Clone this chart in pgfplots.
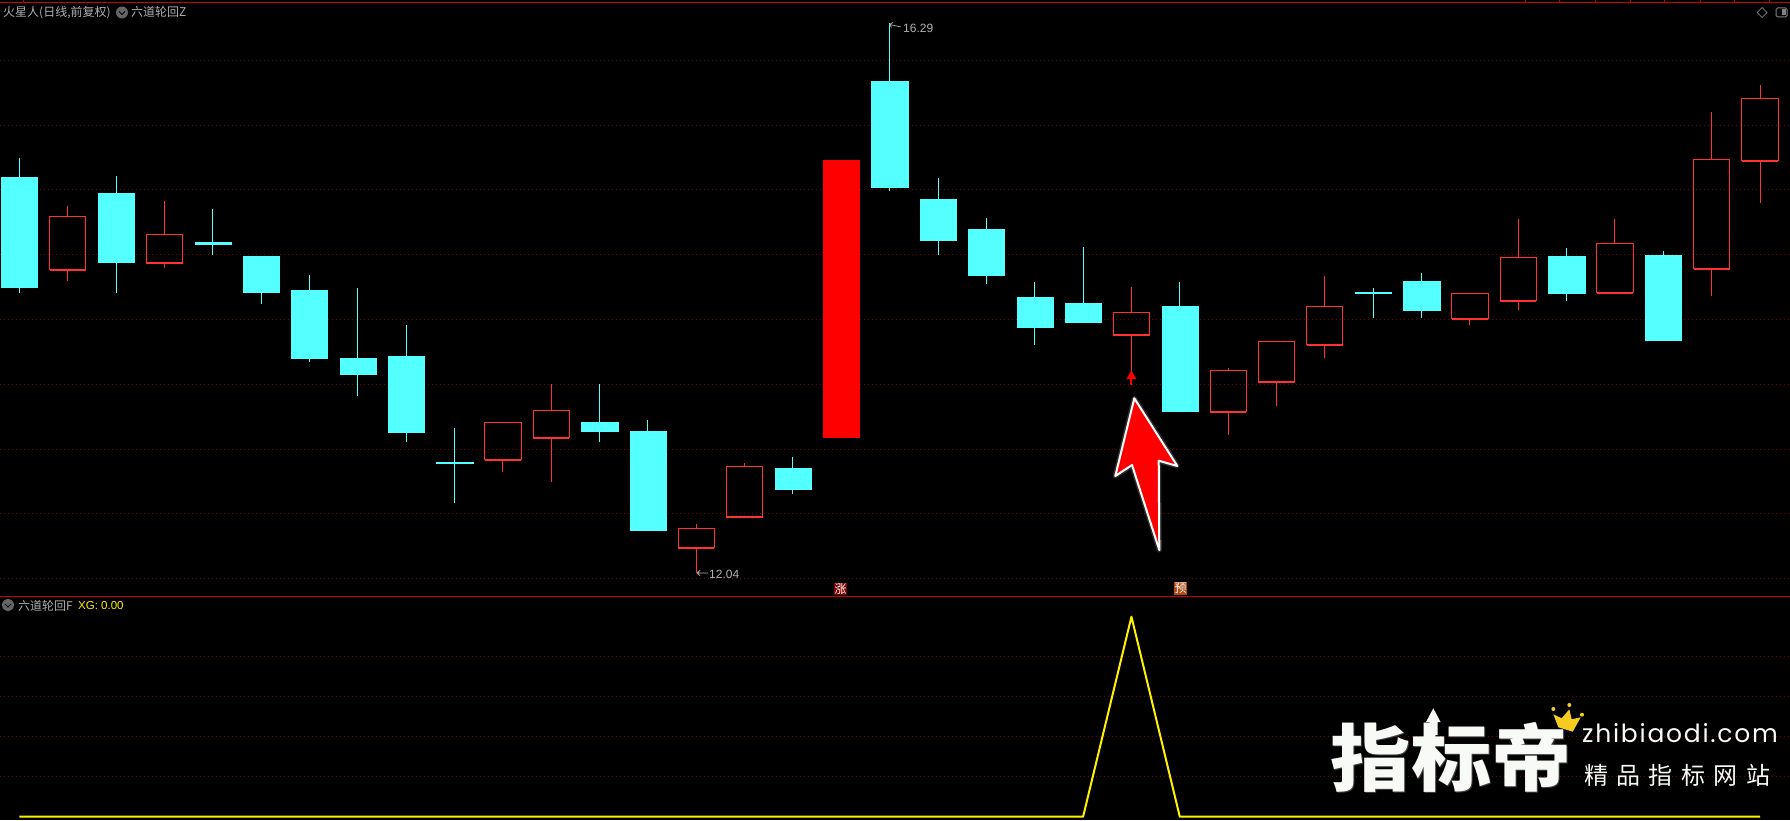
\documentclass[border=0pt]{standalone}
\usepackage{fontspec}
\usepackage{pgfplots}
\pgfplotsset{compat=1.18}
\usepgfplotslibrary{statistics}
\setmainfont{Liberation Sans}
\newfontfamily\cjk{Noto Sans CJK SC}
\newfontfamily\logo[LetterSpace=7]{Poppins}
\definecolor{kcyan}{RGB}{84,255,255}
\definecolor{kred}{RGB}{255,50,50}
\definecolor{kgrid}{RGB}{120,0,0}
\definecolor{kline}{RGB}{200,0,0}
\definecolor{ktext}{RGB}{176,176,176}
\definecolor{kwm}{RGB}{248,250,246}
\definecolor{kgold}{RGB}{245,203,31}
\definecolor{kbadge}{RGB}{176,72,16}
\pgfplotsset{
  paneaxis/.style={
    scale only axis, width=1790pt, anchor=south west,
    xmin=-0.40, xmax=36.62, xtick=\empty,
    yticklabels={}, axis line style={draw=none},
    major tick style={draw=none}, ymajorgrids,
    grid style={kgrid, line width=0.8pt, dash pattern=on 1pt off 3pt},
  },
  % day, high, top of body, bottom of body, low
  k/.style n args={5}{
    boxplot prepared={draw direction=y, draw position=#1, box extend=0.75, whisker extend=0,
      lower whisker=#5, lower quartile=#4, median=#4, upper quartile=#3, upper whisker=#2,
      every whisker/.style={line width=1pt},
      every median/.style={line width=0.2pt}},
  },
  down/.style={draw=kcyan, fill=kcyan, boxplot/every box/.style={line width=0.2pt}},
  up/.style={draw=kred, fill=none, boxplot/every box/.style={line width=1pt}},
  limit/.style={draw=red, fill=red, boxplot/every box/.style={line width=0.2pt}},
}
\begin{document}
\begin{tikzpicture}[x=1pt,y=1pt]
\useasboundingbox (0,0) rectangle (1790,820);
\fill[black] (0,0) rectangle (1790,820);
% upper pane: price
\begin{axis}[paneaxis, at={(0pt,224pt)}, height=594pt,
  ymin=11.8647, ymax=16.4498, ytick={12,12.5,...,16}]
\addplot[down, k={0}{15.246}{15.099}{14.250}{14.204}] coordinates {};
\addplot[up, k={1}{14.875}{14.796}{14.383}{14.296}] coordinates {};
\addplot[down, k={2}{15.107}{14.975}{14.443}{14.204}] coordinates {};
\addplot[up, k={3}{14.914}{14.657}{14.437}{14.397}] coordinates {};
\addplot[down, k={4}{14.852}{14.597}{14.582}{14.497}] coordinates {};
\addplot[down, k={5}{14.489}{14.489}{14.211}{14.119}] coordinates {};
\addplot[down, k={6}{14.342}{14.227}{13.702}{13.671}] coordinates {};
\addplot[down, k={7}{14.242}{13.702}{13.578}{13.408}] coordinates {};
\addplot[down, k={8}{13.957}{13.717}{13.131}{13.053}] coordinates {};
\addplot[down, k={9}{13.162}{12.899}{12.891}{12.583}] coordinates {};
\addplot[up, k={10}{13.205}{13.205}{12.917}{12.822}] coordinates {};
\addplot[up, k={11}{13.501}{13.298}{13.087}{12.745}] coordinates {};
\addplot[down, k={12}{13.501}{13.208}{13.138}{13.053}] coordinates {};
\addplot[down, k={13}{13.223}{13.138}{12.374}{12.374}] coordinates {};
\addplot[up, k={14}{12.420}{12.387}{12.238}{12.040}] coordinates {};
\addplot[up, k={15}{12.891}{12.866}{12.477}{12.477}] coordinates {};
\addplot[down, k={16}{12.938}{12.853}{12.691}{12.652}] coordinates {};
\addplot[limit, k={17}{15.230}{15.230}{13.092}{13.092}] coordinates {};
\addplot[down, k={18}{16.290}{15.840}{15.022}{14.991}] coordinates {};
\addplot[down, k={19}{15.091}{14.929}{14.613}{14.497}] coordinates {};
\addplot[down, k={20}{14.783}{14.698}{14.342}{14.273}] coordinates {};
\addplot[down, k={21}{14.288}{14.173}{13.941}{13.802}] coordinates {};
\addplot[down, k={22}{14.559}{14.126}{13.980}{13.972}] coordinates {};
\addplot[up, k={23}{14.250}{14.055}{13.882}{13.601}] coordinates {};
\addplot[down, k={24}{14.288}{14.103}{13.293}{13.293}] coordinates {};
\addplot[up, k={25}{13.625}{13.607}{13.287}{13.107}] coordinates {};
\addplot[up, k={26}{13.831}{13.831}{13.519}{13.334}] coordinates {};
\addplot[up, k={27}{14.335}{14.101}{13.804}{13.702}] coordinates {};
\addplot[down, k={28}{14.242}{14.211}{14.204}{14.011}] coordinates {};
\addplot[down, k={29}{14.358}{14.296}{14.072}{14.011}] coordinates {};
\addplot[up, k={30}{14.201}{14.201}{14.005}{13.957}] coordinates {};
\addplot[up, k={31}{14.775}{14.479}{14.144}{14.072}] coordinates {};
\addplot[down, k={32}{14.551}{14.489}{14.204}{14.142}] coordinates {};
\addplot[up, k={33}{14.775}{14.587}{14.206}{14.206}] coordinates {};
\addplot[down, k={34}{14.528}{14.497}{13.841}{13.841}] coordinates {};
\addplot[up, k={35}{15.601}{15.236}{14.391}{14.180}] coordinates {};
\addplot[up, k={36}{15.809}{15.706}{15.225}{14.898}] coordinates {};
% signal arrow under the candle of the XG day
\addplot[red, line width=2pt] coordinates {(23,13.56) (23,13.494)};
\addplot[red, only marks, mark=triangle*, mark size=5.3pt] coordinates {(23,13.56)};
\end{axis}
% lower pane: XG
\begin{axis}[paneaxis, at={(0pt,0pt)}, height=224pt,
  ymin=-0.0165, ymax=1.1035, ytick={0.2,0.4,0.6,0.8}]
\addplot[yellow, line width=2pt, line join=round] coordinates {
 (0,0)(1,0)(2,0)(3,0)(4,0)(5,0)(6,0)(7,0)(8,0)(9,0)(10,0)(11,0)
 (12,0)(13,0)(14,0)(15,0)(16,0)(17,0)(18,0)(19,0)(20,0)(21,0)(22,0)
 (23,1)(24,0)(25,0)(26,0)(27,0)(28,0)(29,0)(30,0)(31,0)(32,0)(33,0)(34,0)(35,0)(36,0)};
\end{axis}
% chrome and annotations, in pixel positions measured from the top left
\begin{scope}[shift={(0,820)}, y=-1pt, x=1pt]
\draw[kline, line width=1pt] (0,2.5)--(1790,2.5);
\draw[kline, line width=1pt] (0,596.5)--(1790,596.5);
\foreach \tx in {23,1525,1559,1595,1630,1664,1700,1734,1769}
  \draw[kline, line width=0.8pt] (\tx,0)--(\tx,2.5);
% header
\node[anchor=base west, inner sep=0, text=ktext, font=\fontsize{12}{12}\selectfont\cjk] at (3,17) {火星人(日线,前复权)};
\fill[black!60!white] (122,12.5) circle (6);
\draw[black, line width=0.9pt] (119,11.5)--(122,14.5)--(125,11.5);
\node[anchor=base west, inner sep=0, text=ktext, font=\fontsize{12}{12}\selectfont\cjk] at (131,17) {六道轮回Z};
% right icons
\draw[gray, line width=0.7pt] (1762,7.5)--(1767,12.5)--(1762,17.5)--(1757,12.5)--cycle;
\draw[gray, line width=1pt, rounded corners=1.5pt] (1776,8)rectangle(1787,17);
\fill[gray] (1782,9.5) rectangle (1785.5,15.5);
% lower header
\fill[black!60!white] (8,605) circle (6);
\draw[black, line width=0.9pt] (5,604)--(8,607)--(11,604);
\node[anchor=base west, inner sep=0, text=ktext, font=\fontsize{12}{12}\selectfont\cjk] at (18,610) {六道轮回F};
\node[anchor=base west, inner sep=0, text=yellow, font=\fontsize{11.5}{12}\selectfont] at (78,609.5) {XG: 0.00};
% high and low
\draw[ktext, line width=0.7pt] (889.5,24.5)--(901,27) (889.5,24.5)--(893,22.5) (889.5,24.5)--(891.5,27.5);
\node[anchor=base west, inner sep=0, text=ktext, font=\fontsize{12}{12}\selectfont] at (903,32.5) {16.29};
\draw[ktext, line width=0.8pt] (697,573)--(708,573) (697,573)--(700,570.5) (697,573)--(700,575.5);
\node[anchor=base west, inner sep=0, text=ktext, font=\fontsize{12}{12}\selectfont] at (709,578) {12.04};
% badges
\fill[red!50!black] (834,582.7) rectangle (847,595);
\node[text=white, inner sep=0, font=\fontsize{12}{12}\selectfont\cjk] at (840.5,589) {涨};
\fill[kbadge] (1174,582) rectangle (1187,595);
\node[text=white, inner sep=0, font=\fontsize{12}{12}\selectfont\cjk] at (1180.5,588.5) {预};
% big annotation arrow
\def\arrowpath{(1134.3,398.3)--(1177.3,466)--(1158.7,460.7)--(1159.3,550)--(1132,465)--(1115.3,476)--cycle}
\draw[white, opacity=0.18, line width=5pt, line join=round] \arrowpath;
\draw[white, fill=red, line width=2pt, line join=round] \arrowpath;
% watermark
\node[anchor=base west, inner sep=0, text=gray!50!black, font=\fontsize{73}{73}\selectfont\cjk\bfseries] at (1331.5,786) {\scalebox{1.1}[1]{指标帝}};
\node[anchor=base west, inner sep=0, text=kwm, font=\fontsize{73}{73}\selectfont\cjk\bfseries] at (1330.5,785) {\scalebox{1.1}[1]{指标帝}};
\fill[kwm] (1433.3,708.3)--(1440.5,722)--(1437.5,722)--(1437.5,735)--(1429.5,735)--(1429.5,722)--(1426,722)--cycle;
\fill[kgold] (1558.3,727.3)--(1553.3,714.3)--(1561.7,718.3)--(1569.3,709.3)--(1571.7,719.3)--(1580.7,717.3)--(1572.7,731.7)--cycle;
\fill[kgold] (1553.3,709) circle (2) (1569.3,705) circle (2) (1582,714.7) circle (2);
\node[anchor=base west, inner sep=0, text=kwm, font=\fontsize{25}{25}\selectfont\logo] at (1582,742.5) {zhibiaodi.com};
\node[anchor=base west, inner sep=0, text=kwm, font=\fontsize{24}{24}\selectfont\cjk] at (1584,784) {精\hspace{8.4pt}品\hspace{8.4pt}指\hspace{8.4pt}标\hspace{8.4pt}网\hspace{8.4pt}站};
\end{scope}
\end{tikzpicture}
\end{document}
